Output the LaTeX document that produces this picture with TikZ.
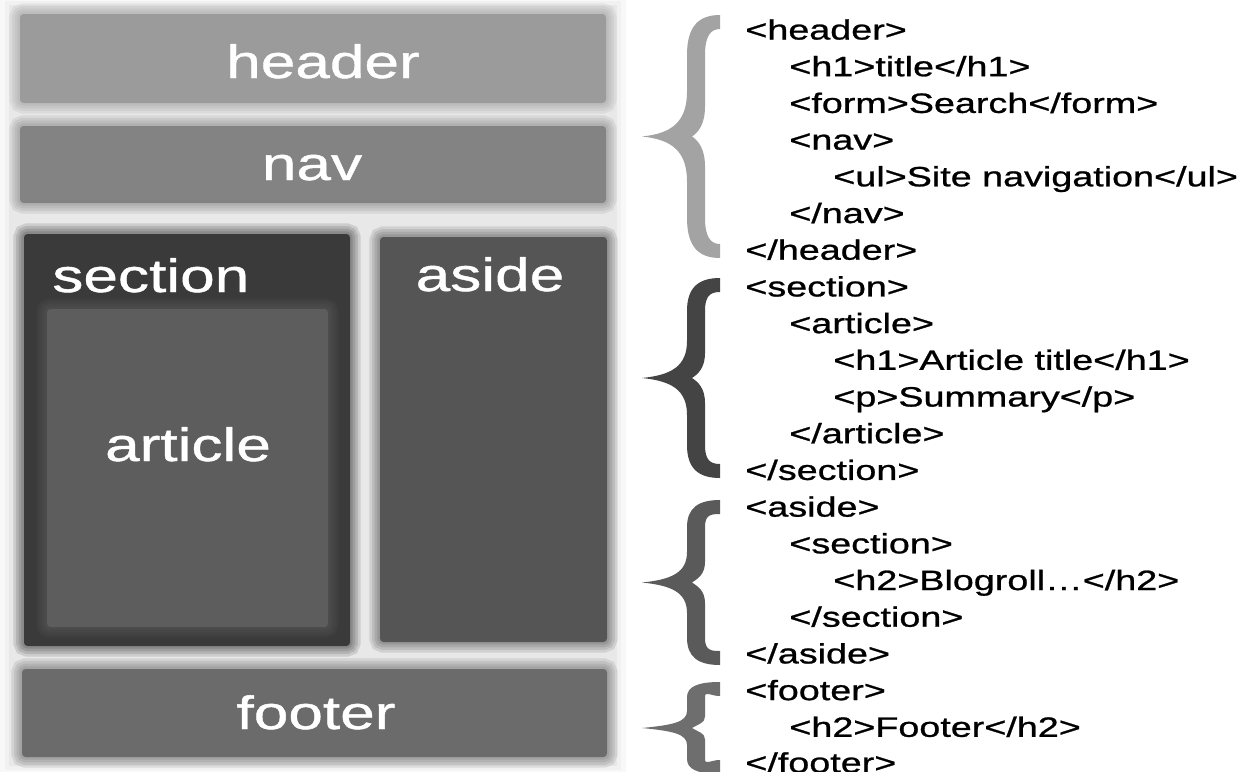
\documentclass[tikz,border=0pt]{standalone}
\usepackage{fontspec}
\setmainfont{Liberation Sans}
\newfontfamily\codefont[FakeStretch=1.35,FakeBold=0.9]{Liberation Sans}
\newfontfamily\labelfont[FakeStretch=1.33,FakeBold=0.9]{Liberation Sans}
\usetikzlibrary{fit}
\definecolor{panel}{HTML}{E8E8E8}
\definecolor{cheader}{HTML}{9B9B9B}
\definecolor{cnav}{HTML}{838383}
\definecolor{csection}{HTML}{3A3A3A}
\definecolor{carticle}{HTML}{5D5D5D}
\definecolor{caside}{HTML}{555555}
\definecolor{cfooter}{HTML}{6B6B6B}
\definecolor{bheader}{HTML}{A3A3A3}
\definecolor{bsection}{HTML}{444444}
\definecolor{baside}{HTML}{5A5A5A}
\definecolor{bfooter}{HTML}{6E6E6E}
\newcommand{\htmlbrace}[3]{%
 \pgfmathsetmacro\bT{#1}\pgfmathsetmacro\bB{#2}%
 \pgfmathsetmacro\bM{(#1+#2)/2}\pgfmathsetmacro\bh{(#2-#1)/2}%
 \pgfmathsetmacro\ha{min(40,0.33*\bh)}%
 \pgfmathsetmacro\hb{min(45,0.37*\bh)}%
 \pgfmathsetmacro\hc{min(30,0.25*\bh)}%
 \fill[#3] (720,\bT) .. controls (698,\bT) and (687,\bT+0.3*\ha) .. (687,\bT+\ha)
 -- (687,\bM-\hb) .. controls (687,\bM-0.33*\hb) and (672,\bM-3) .. (642,\bM)
 .. controls (672,\bM+3) and (687,\bM+0.33*\hb) .. (687,\bM+\hb)
 -- (687,\bB-\ha) .. controls (687,\bB-0.3*\ha) and (698,\bB) .. (720,\bB)
 -- (720,\bB-14) .. controls (710,\bB-14) and (705,\bB-0.55*\ha) .. (705,\bB-\ha)
 -- (705,\bM+\hc) .. controls (705,\bM+0.4*\hc) and (698,\bM+4) .. (692,\bM)
 .. controls (698,\bM-4) and (705,\bM-0.4*\hc) .. (705,\bM-\hc)
 -- (705,\bT+\ha) .. controls (705,\bT+0.55*\ha) and (710,\bT+14) .. (720,\bT+14) -- cycle;}
\begin{document}
\begin{tikzpicture}[x=0.02cm,y=-0.02cm,
 softbox/.style={fill=#1, rounded corners=2pt, inner sep=0pt,
   preaction={draw=#1, draw opacity=0.16, line width=12pt},
   preaction={draw=#1, draw opacity=0.16, line width=9pt},
   preaction={draw=#1, draw opacity=0.18, line width=6pt},
   preaction={draw=#1, draw opacity=0.2, line width=3pt}},
 boxlabel/.style={text=white, font=\labelfont\fontsize{26.6}{30}\selectfont, inner sep=0pt, anchor=base},
 code/.style={text=black, font=\codefont\fontsize{15.9}{19}\selectfont, inner sep=0pt, anchor=base west}]
\useasboundingbox (0,0) rectangle (1247,771);
\fill[white] (0,0) rectangle (1247,771);
% light panel behind the layout
\path[fill=panel, preaction={draw=panel, draw opacity=0.3, line width=10pt},
  preaction={draw=panel, draw opacity=0.4, line width=5pt}] (9,5) rectangle (617,766);
% layout boxes
\node[softbox=cheader, fit={(20,14)(606,103)}] (header) {};
\node[softbox=cnav, fit={(20,126)(606,203)}] (nav) {};
\node[softbox=csection, fit={(24,234)(350,646)}] (section) {};
\node[softbox=carticle, fit={(47,309)(328,627)}] (article) {};
\node[softbox=caside, fit={(380,237)(607,642)}] (aside) {};
\node[softbox=cfooter, fit={(22,669)(607,757)}] (footer) {};
\node[boxlabel] (headerlbl) at (323,78) {header};
\node[boxlabel] (navlbl) at (312,180) {nav};
\node[boxlabel, anchor=base west] (sectionlbl) at (52,292) {section};
\node[boxlabel] (asidelbl) at (490,291) {aside};
\node[boxlabel] (articlelbl) at (188,461) {article};
\node[boxlabel] (footerlbl) at (316,729) {footer};
% braces
\htmlbrace{15}{258}{bheader}
\htmlbrace{278}{478}{bsection}
\htmlbrace{500}{665}{baside}
\htmlbrace{682}{774}{bfooter}
% code
\node[code] (l1) at (745,39.5) {<header>};
\node[code] (l2) at (789,76.2) {<h1>title</h1>};
\node[code] (l3) at (789,112.9) {<form>Search</form>};
\node[code] (l4) at (789,149.6) {<nav>};
\node[code] (l5) at (833,186.3) {<ul>Site navigation</ul>};
\node[code] (l6) at (789,223.0) {</nav>};
\node[code] (l7) at (745,259.7) {</header>};
\node[code] (l8) at (745,296.4) {<section>};
\node[code] (l9) at (789,333.1) {<article>};
\node[code] (l10) at (833,369.8) {<h1>Article title</h1>};
\node[code] (l11) at (833,406.5) {<p>Summary</p>};
\node[code] (l12) at (789,443.2) {</article>};
\node[code] (l13) at (745,479.9) {</section>};
\node[code] (l14) at (745,516.6) {<aside>};
\node[code] (l15) at (789,553.3) {<section>};
\node[code] (l16) at (833,590.0) {<h2>Blogroll…</h2>};
\node[code] (l17) at (789,626.7) {</section>};
\node[code] (l18) at (745,663.4) {</aside>};
\node[code] (l19) at (745,700.1) {<footer>};
\node[code] (l20) at (789,736.8) {<h2>Footer</h2>};
\node[code] (l21) at (745,772.5) {</footer>};
\end{tikzpicture}
\end{document}
